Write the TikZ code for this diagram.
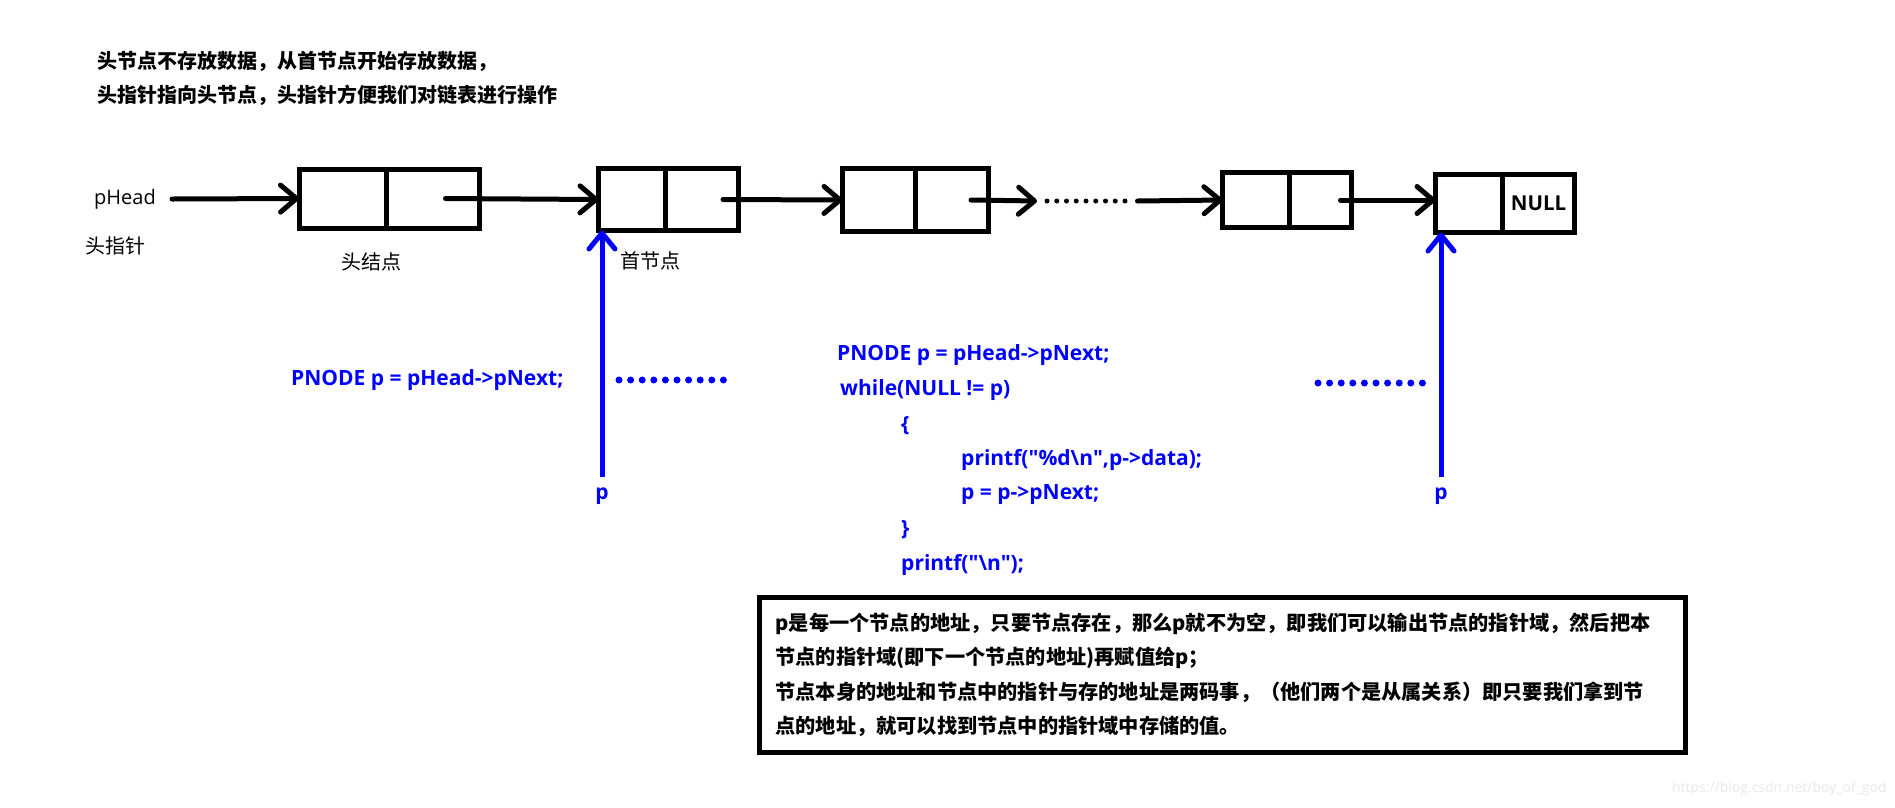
\documentclass[tikz,border=0pt]{standalone}
\usepackage{fontspec}
\newfontfamily\cjk{Noto Sans CJK SC}
\newfontfamily\lat{Open Sans}
\usetikzlibrary{arrows.meta, positioning}
\definecolor{ptrblue}{RGB}{0,0,255}
\definecolor{markgray}{RGB}{232,232,232}
\tikzset{
  cell/.style={draw, line width=5pt, inner sep=0pt, outer sep=0pt},
  link/.style={line width=5pt, line cap=round,
               -{Straight Barb[length=16pt, width=27pt, round]}},
  plink/.style={ptrblue, line width=5pt,
                -{Straight Barb[length=16pt, width=26pt, round]}},
  hint/.style={inner sep=0pt, anchor=west, font=\cjk\fontsize{20}{24}\selectfont},
  code/.style={inner sep=0pt, anchor=west, text=ptrblue,
               font=\lat\bfseries\fontsize{21}{25}\selectfont},
}

\begin{document}
\begin{tikzpicture}[x=1pt, y=-1pt]
  \useasboundingbox (0,0) rectangle (1895,807);

  % Notes on top
  \node[hint, align=left, font=\cjk\bfseries\fontsize{20}{34}\selectfont]
    (intro) at (97,78) {头节点不存放数据，从首节点开始存放数据，\\头指针指向头节点，头指针方便我们对链表进行操作};

  % Head pointer
  \node[hint, font=\lat\fontsize{20}{24}\selectfont] (phead) at (94,199) {pHead};
  \node[hint] (pheadcn) at (85,246) {头指针};

  % Head node
  \node[cell, minimum width=87pt, minimum height=59pt] (hdL) at (342.5,198.5) {};
  \node[cell, minimum width=93pt, minimum height=59pt, right=0pt of hdL] (hdR) {};
  \node[hint] (hdlab) at (341,262) {头结点};

  % First node
  \node[cell, minimum width=67pt, minimum height=62pt] (n1L) at (632,199.5) {};
  \node[cell, minimum width=73pt, minimum height=62pt, right=0pt of n1L] (n1R) {};
  \node[hint] (n1lab) at (620,261) {首节点};

  % Second node
  \node[cell, minimum width=73pt, minimum height=63pt] (n2L) at (879,200) {};
  \node[cell, minimum width=73pt, minimum height=63pt, right=0pt of n2L] (n2R) {};

  % Node before last
  \node[cell, minimum width=67pt, minimum height=55pt] (n3L) at (1256,200) {};
  \node[cell, minimum width=62pt, minimum height=55pt, right=0pt of n3L] (n3R) {};

  % Last node
  \node[cell, minimum width=67pt, minimum height=58pt] (nlL) at (1469,203.5) {};
  \node[cell, minimum width=72pt, minimum height=58pt, right=0pt of nlL,
        font=\lat\bfseries\fontsize{20.5}{24}\selectfont] (nlR) {NULL};

  % Links
  \coordinate (dotsL) at (1047,201);
  \coordinate (dotsR) at (1125.5,201);
  \draw[link] ([xshift=16pt]phead.east) -- (hdL.west);
  \draw[link] ([xshift=13pt]hdR.center) -- (n1L.west);
  \draw[link] ([xshift=21pt]n1R.center) -- (n2L.west);
  \draw[link] ([xshift=19pt]n2R.center) -- ([xshift=-10pt]dotsL);
  \draw[line width=5pt, line cap=round, dash pattern=on 0pt off 9.75pt] (dotsL) -- (dotsR);
  \draw[link] ([xshift=12pt]dotsR) -- (n3L.west);
  \draw[link] ([xshift=20pt]n3R.center) -- (n3R.center -| nlL.west);

  % Pointer p
  \node[code, anchor=center] (p1) at (602,496) {p};
  \node[code, anchor=center] (p2) at (1441,496) {p};
  \draw[plink] ([yshift=10pt]p1.north) -- (p1.north |- n1L.south);
  \draw[plink] ([yshift=10pt]p2.north) -- (p2.north |- nlL.south);

  \node[code] (walk) at (291,380) {PNODE p = pHead->pNext;};
  \draw[ptrblue, line width=7pt, line cap=round, dash pattern=on 0pt off 11.6pt]
    (619,380) -- (723.9,380);
  \draw[ptrblue, line width=7pt, line cap=round, dash pattern=on 0pt off 11.6pt]
    (1318,383) -- (1422.9,383);

  % Traverse code
  \node[code] (cl1) at (837,355) {PNODE p = pHead->pNext;};
  \node[code] (cl2) at (840,390) {while(NULL != p)};
  \node[code] (cl3) at (901,426) {\{};
  \node[code] (cl4) at (961,460) {printf("\%d\textbackslash n",p->data);};
  \node[code] (cl5) at (961,495) {p = p->pNext;};
  \node[code] (cl6) at (901,530) {\}};
  \node[code] (cl7) at (901,565) {printf("\textbackslash n");};

  % Explanation box
  \node[cell, anchor=north west, minimum width=926pt, minimum height=155pt,
        text width=894pt, inner xsep=16pt, align=left,
        font=\cjk\bfseries\fontsize{20.2}{34.5}\selectfont] (note) at (759.5,597.5)
    {p是每一个节点的地址，只要节点存在，那么p就不为空，即我们可以输出节点的指针域，然后把本\\
     节点的指针域(即下一个节点的地址)再赋值给p；\\
     节点本身的地址和节点中的指针与存的地址是两码事，（他们两个是从属关系）即只要我们拿到节\\
     点的地址，就可以找到节点中的指针域中存储的值。};

  \node[inner sep=0pt, anchor=east, text=markgray, font=\lat\fontsize{14}{16}\selectfont]
    (mark) at (1887,789) {https://blog.csdn.net/boy\_of\_god};
\end{tikzpicture}
\end{document}
